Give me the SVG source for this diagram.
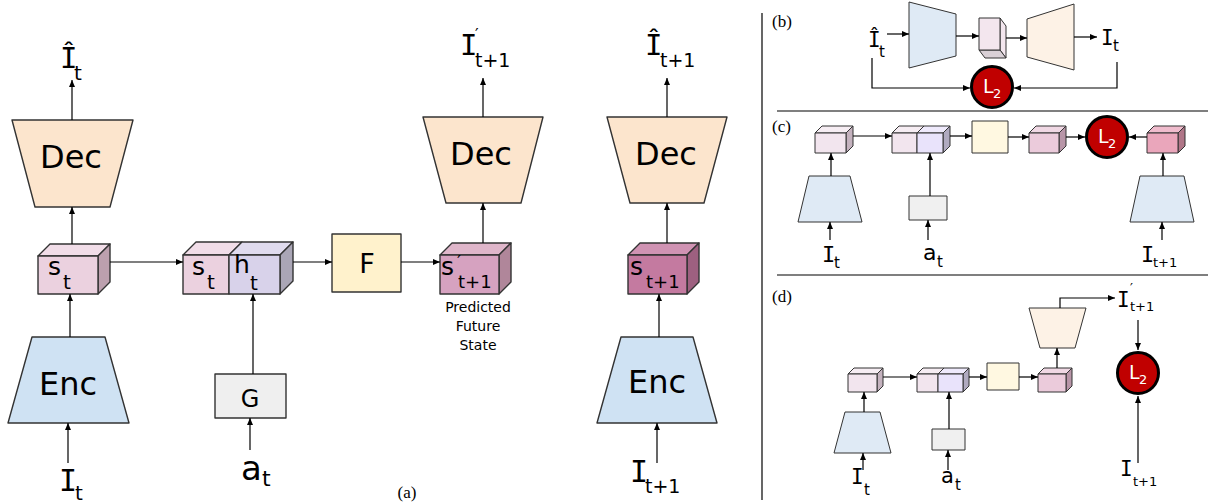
<svg xmlns="http://www.w3.org/2000/svg" width="1210" height="504" viewBox="0 0 1210 504">
<defs>
<marker id="ah" markerUnits="userSpaceOnUse" markerWidth="7" markerHeight="6" refX="7" refY="3" orient="auto"><path d="M0,0 L7,3 L0,6 z" fill="#000"/></marker>
<style>
.ln{stroke:#000;stroke-width:1.2;fill:none;marker-end:url(#ah)}
.sh{stroke:#333;stroke-width:1.4;stroke-linejoin:round}
.sh2{stroke:#333;stroke-width:1;stroke-linejoin:round}
.t{font-family:"DejaVu Sans",Verdana,sans-serif;fill:#000}
.m{font-family:"DejaVu Sans Mono",monospace;fill:#000}
.s{font-family:"DejaVu Sans",Verdana,sans-serif}
.c{text-anchor:middle}
.cap{font-family:"Liberation Serif","Times New Roman",serif;fill:#000;font-size:17px}
.l2{fill:#c00000;stroke:#000;stroke-width:3}
.wl{font-family:"DejaVu Sans",sans-serif;fill:#fff}
.dec{fill:#fce5cd}.enc{fill:#cfe2f3}
.decs{fill:#fdf2e6}.encs{fill:#dfeaf5}
</style>
</defs>

<!-- dividers -->
<g id="dividers" stroke="#000" stroke-width="1.2">
<line x1="762" y1="13" x2="762" y2="500"/>
<line x1="777" y1="111" x2="1208" y2="111"/>
<line x1="777" y1="275" x2="1208" y2="275"/>
</g>

<!-- ===== Panel (a) ===== -->
<g id="a-dec1"><polygon class="sh dec" points="12,120 133,120 110,207 35,207"/><text class="t c" x="71" y="168" font-size="32">Dec</text></g>
<g id="a-enc1"><polygon class="sh enc" points="32,337 105,337 129,423 8,423"/><text class="t c" x="68" y="395" font-size="32">Enc</text></g>
<g id="a-st">
<polygon class="sh" fill="#f1dde8" points="38,256 50,244 110,244 98,256"/>
<polygon class="sh" fill="#bca0ae" points="98,256 110,244 110,282 98,294"/>
<rect class="sh" fill="#ebd1df" x="38" y="256" width="60" height="38"/>
<text class="t" font-size="25"><tspan x="48" y="275">s</tspan><tspan x="63" y="289" font-size="20">t</tspan></text>
</g>
<g id="a-concat">
<polygon class="sh" fill="#f1dde8" points="183,255 196,242 242,242 229,255"/>
<polygon class="sh" fill="#e0dbee" points="229,255 242,242 293,242 280,255"/>
<polygon class="sh" fill="#aaa6b6" points="280,255 293,242 293,281 280,294"/>
<rect class="sh" fill="#ebd1df" x="183" y="255" width="46" height="39"/>
<rect class="sh" fill="#d8d2ea" x="229" y="255" width="51" height="39"/>
<text class="t" font-size="25"><tspan x="192" y="275">s</tspan><tspan x="207" y="289" font-size="20">t</tspan></text>
<text class="t" font-size="25"><tspan x="234" y="273">h</tspan><tspan x="250" y="290" font-size="20">t</tspan></text>
</g>
<g id="a-F"><rect class="sh" fill="#fff2cc" x="332" y="234" width="69" height="58"/><text class="t c" x="367" y="273" font-size="27">F</text></g>
<g id="a-G"><rect class="sh" fill="#efefef" x="215" y="374" width="71" height="44"/><text class="t c" x="250" y="407" font-size="24">G</text></g>
<g id="a-spred">
<polygon class="sh" fill="#dfb6ca" points="440,255 452,243 511,243 499,255"/>
<polygon class="sh" fill="#b0869a" points="499,255 511,243 511,282 499,294"/>
<rect class="sh" fill="#d6a2c0" x="440" y="255" width="59" height="39"/>
<text class="t" font-size="25"><tspan x="441" y="275">s</tspan><tspan x="457" y="268" font-size="18">′</tspan><tspan x="458" y="288" font-size="18">t+1</tspan></text>
<text class="t c" font-size="14"><tspan x="478" y="312">Predicted</tspan><tspan x="478" y="331">Future</tspan><tspan x="478" y="350">State</tspan></text>
</g>
<g id="a-dec2"><polygon class="sh dec" points="423,117 543,117 521,203 446,203"/><text class="t c" x="481" y="165" font-size="32">Dec</text></g>
<g id="a-dec3"><polygon class="sh dec" points="607,117 727,117 704,203 630,203"/><text class="t c" x="666" y="165" font-size="32">Dec</text></g>
<g id="a-st1">
<polygon class="sh" fill="#d093b3" points="628,255 640,243 699,243 687,255"/>
<polygon class="sh" fill="#9e6080" points="687,255 699,243 699,282 687,294"/>
<rect class="sh" fill="#c47aa0" x="628" y="255" width="59" height="39"/>
<text class="t" font-size="25"><tspan x="630" y="275">s</tspan><tspan x="646" y="288" font-size="18">t+1</tspan></text>
</g>
<g id="a-enc2"><polygon class="sh enc" points="621,337 693,337 717,423 597,423"/><text class="t c" x="657" y="393" font-size="32">Enc</text></g>

<g id="a-labels">
<text class="m" font-size="29"><tspan x="60" y="68">Î</tspan><tspan class="s" x="74" y="80" font-size="20">t</tspan></text>
<text class="m" font-size="29"><tspan x="460" y="55">I</tspan><tspan class="s" x="475" y="40" font-size="16">′</tspan><tspan class="s" x="475" y="67" font-size="19">t+1</tspan></text>
<text class="m" font-size="29"><tspan x="645" y="55">Î</tspan><tspan class="s" x="660" y="67" font-size="19">t+1</tspan></text>
<text class="m" font-size="30"><tspan x="59" y="491">I</tspan><tspan class="s" x="75" y="500" font-size="20">t</tspan></text>
<text class="t" font-size="34"><tspan x="241" y="480">a</tspan><tspan x="262" y="486" font-size="22">t</tspan></text>
<text class="m" font-size="30"><tspan x="630" y="482">I</tspan><tspan class="s" x="645" y="493" font-size="19">t+1</tspan></text>
<text class="cap c" x="407" y="498">(a)</text>
</g>

<!-- ===== Panel (b) ===== -->
<g id="b-enc"><polygon class="sh2 encs" points="909,2 956,14 956,56 909,68"/></g>
<g id="b-cube">
<polygon class="sh2" fill="#f3e6ee" points="1000,18 1006,26 1006,58 1000,50"/>
<polygon class="sh2" fill="#d9d0d6" points="979,50 1000,50 1006,58 985,58"/>
<rect class="sh2" fill="#f3e6ee" x="979" y="18" width="21" height="32"/>
</g>
<g id="b-dec"><polygon class="sh2 decs" points="1027,19 1074,4 1074,70 1027,57"/></g>
<g id="b-L2"><circle class="l2" cx="992" cy="87" r="20.5"/><text class="wl" font-size="19"><tspan x="983" y="93">L</tspan><tspan x="993" y="98" font-size="13">2</tspan></text></g>
<g id="b-labels">
<text class="m" font-size="21"><tspan x="868" y="47">Î</tspan><tspan class="s" x="879" y="57" font-size="15">t</tspan></text>
<text class="m" font-size="21"><tspan x="1101" y="45">I</tspan><tspan class="s" x="1113" y="51" font-size="15">t</tspan></text>
<text class="cap" x="772" y="27">(b)</text>
</g>

<!-- ===== Panel (c) ===== -->
<g id="c-cube1">
<polygon class="sh2" fill="#f6edf3" points="815,133 822,126 853,126 846,133"/>
<polygon class="sh2" fill="#c4b2be" points="846,133 853,126 853,146 846,153"/>
<rect class="sh2" fill="#f2e5ee" x="815" y="133" width="31" height="20"/>
</g>
<g id="c-concat">
<polygon class="sh2" fill="#f6edf3" points="892,133 899,126 924,126 917,133"/>
<polygon class="sh2" fill="#efeafc" points="917,133 924,126 950,126 943,133"/>
<polygon class="sh2" fill="#b0aac0" points="943,133 950,126 950,146 943,153"/>
<rect class="sh2" fill="#f2e5ee" x="892" y="133" width="25" height="20"/>
<rect class="sh2" fill="#e9e3fb" x="917" y="133" width="26" height="20"/>
</g>
<g id="c-F"><rect class="sh2" fill="#fff8e1" x="972" y="121" width="36" height="32"/></g>
<g id="c-pred">
<polygon class="sh2" fill="#f0d8e4" points="1029,133 1036,126 1066,126 1059,133"/>
<polygon class="sh2" fill="#b896a8" points="1059,133 1066,126 1066,146 1059,153"/>
<rect class="sh2" fill="#ebcbdb" x="1029" y="133" width="30" height="20"/>
</g>
<g id="c-L2"><circle class="l2" cx="1107" cy="137" r="20.5"/><text class="wl" font-size="19"><tspan x="1098" y="143">L</tspan><tspan x="1108" y="148" font-size="13">2</tspan></text></g>
<g id="c-cube2">
<polygon class="sh2" fill="#f0bccd" points="1147,133 1154,126 1185,126 1178,133"/>
<polygon class="sh2" fill="#b07688" points="1178,133 1185,126 1185,146 1178,153"/>
<rect class="sh2" fill="#eaa6bb" x="1147" y="133" width="31" height="20"/>
</g>
<g id="c-enc1"><polygon class="sh2 encs" points="809,176 850,176 862,222 798,222"/></g>
<g id="c-G"><rect class="sh2" fill="#f0f0f0" x="909" y="196" width="38" height="24"/></g>
<g id="c-enc2"><polygon class="sh2 encs" points="1140,176 1184,176 1194,222 1130,222"/></g>
<g id="c-labels">
<text class="m" font-size="22"><tspan x="822" y="262">I</tspan><tspan class="s" x="834" y="268" font-size="15">t</tspan></text>
<text class="t" font-size="22"><tspan x="923" y="260">a</tspan><tspan x="937" y="267" font-size="15">t</tspan></text>
<text class="m" font-size="22"><tspan x="1141" y="262">I</tspan><tspan class="s" x="1153" y="267" font-size="13">t+1</tspan></text>
<text class="cap" x="772" y="132">(c)</text>
</g>

<!-- ===== Panel (d) ===== -->
<g id="d-cube1">
<polygon class="sh2" fill="#f6edf3" points="848,374 854,368 883,368 877,374"/>
<polygon class="sh2" fill="#c4b2be" points="877,374 883,368 883,386 877,392"/>
<rect class="sh2" fill="#f2e5ee" x="848" y="374" width="29" height="18"/>
</g>
<g id="d-concat">
<polygon class="sh2" fill="#f6edf3" points="917,374 923,368 944,368 938,374"/>
<polygon class="sh2" fill="#efeafc" points="938,374 944,368 969,368 963,374"/>
<polygon class="sh2" fill="#b0aac0" points="963,374 969,368 969,386 963,392"/>
<rect class="sh2" fill="#f2e5ee" x="917" y="374" width="21" height="18"/>
<rect class="sh2" fill="#e9e3fb" x="938" y="374" width="25" height="18"/>
</g>
<g id="d-F"><rect class="sh2" fill="#fff8e1" x="987" y="363" width="32" height="27"/></g>
<g id="d-pred">
<polygon class="sh2" fill="#f0d8e4" points="1038,374 1044,368 1072,368 1066,374"/>
<polygon class="sh2" fill="#b896a8" points="1066,374 1072,368 1072,386 1066,392"/>
<rect class="sh2" fill="#ebcbdb" x="1038" y="374" width="28" height="18"/>
</g>
<g id="d-dec"><polygon class="sh2 decs" points="1029,308 1086,308 1075,348 1040,348"/></g>
<g id="d-enc"><polygon class="sh2 encs" points="845,412 880,412 891,453 834,453"/></g>
<g id="d-G"><rect class="sh2" fill="#f0f0f0" x="932" y="429" width="33" height="21"/></g>
<g id="d-L2"><circle class="l2" cx="1138" cy="373" r="20.5"/><text class="wl" font-size="19"><tspan x="1129" y="379">L</tspan><tspan x="1139" y="384" font-size="13">2</tspan></text></g>
<g id="d-labels">
<text class="m" font-size="21"><tspan x="1117" y="307">I</tspan><tspan class="s" x="1130" y="292" font-size="13">′</tspan><tspan class="s" x="1130" y="311" font-size="13">t+1</tspan></text>
<text class="m" font-size="21"><tspan x="851" y="484">I</tspan><tspan class="s" x="864" y="495" font-size="15">t</tspan></text>
<text class="t" font-size="21"><tspan x="941" y="483">a</tspan><tspan x="955" y="490" font-size="15">t</tspan></text>
<text class="m" font-size="21"><tspan x="1120" y="476">I</tspan><tspan class="s" x="1133" y="486" font-size="13">t+1</tspan></text>
<text class="cap" x="772" y="302">(d)</text>
</g>

<!-- ===== connectors ===== -->
<g id="connectors">
<line class="ln" x1="72" y1="120" x2="72" y2="80"/>
<line class="ln" x1="72" y1="244" x2="72" y2="207"/>
<line class="ln" x1="70" y1="337" x2="70" y2="294"/>
<line class="ln" x1="68" y1="463" x2="68" y2="423"/>
<line class="ln" x1="110" y1="262" x2="183" y2="262"/>
<line class="ln" x1="293" y1="262" x2="332" y2="262"/>
<line class="ln" x1="401" y1="262" x2="440" y2="262"/>
<line class="ln" x1="253" y1="374" x2="253" y2="294"/>
<line class="ln" x1="250" y1="450" x2="250" y2="418"/>
<line class="ln" x1="483" y1="243" x2="483" y2="203"/>
<line class="ln" x1="483" y1="117" x2="483" y2="78"/>
<line class="ln" x1="667" y1="243" x2="667" y2="203"/>
<line class="ln" x1="667" y1="117" x2="667" y2="78"/>
<line class="ln" x1="659" y1="337" x2="659" y2="294"/>
<line class="ln" x1="657" y1="463" x2="657" y2="423"/>
<line class="ln" x1="887" y1="34" x2="909" y2="34"/>
<line class="ln" x1="956" y1="36" x2="979" y2="36"/>
<line class="ln" x1="1006" y1="38" x2="1027" y2="38"/>
<line class="ln" x1="1074" y1="37" x2="1097" y2="37"/>
<polyline class="ln" points="872,58 872,88 970,88"/>
<polyline class="ln" points="1117,62 1117,88 1014,88"/>
<line class="ln" x1="853" y1="136" x2="892" y2="136"/>
<line class="ln" x1="950" y1="136" x2="972" y2="136"/>
<line class="ln" x1="1008" y1="137" x2="1029" y2="137"/>
<line class="ln" x1="1066" y1="137" x2="1085" y2="137"/>
<line class="ln" x1="1147" y1="137" x2="1129" y2="137"/>
<line class="ln" x1="831" y1="176" x2="831" y2="153"/>
<line class="ln" x1="830" y1="240" x2="830" y2="222"/>
<line class="ln" x1="930" y1="196" x2="930" y2="153"/>
<line class="ln" x1="928" y1="240" x2="928" y2="220"/>
<line class="ln" x1="1163" y1="176" x2="1163" y2="153"/>
<line class="ln" x1="1162" y1="240" x2="1162" y2="222"/>
<line class="ln" x1="883" y1="377" x2="917" y2="377"/>
<line class="ln" x1="969" y1="377" x2="987" y2="377"/>
<line class="ln" x1="1019" y1="377" x2="1038" y2="377"/>
<line class="ln" x1="1057" y1="368" x2="1057" y2="348"/>
<polyline class="ln" points="1060,308 1060,298 1115,298"/>
<line class="ln" x1="1138" y1="320" x2="1138" y2="350"/>
<line class="ln" x1="1138" y1="463" x2="1138" y2="396"/>
<line class="ln" x1="864" y1="412" x2="864" y2="392"/>
<line class="ln" x1="863" y1="470" x2="863" y2="453"/>
<line class="ln" x1="949" y1="429" x2="949" y2="392"/>
<line class="ln" x1="948" y1="470" x2="948" y2="450"/>
</g>
</svg>
